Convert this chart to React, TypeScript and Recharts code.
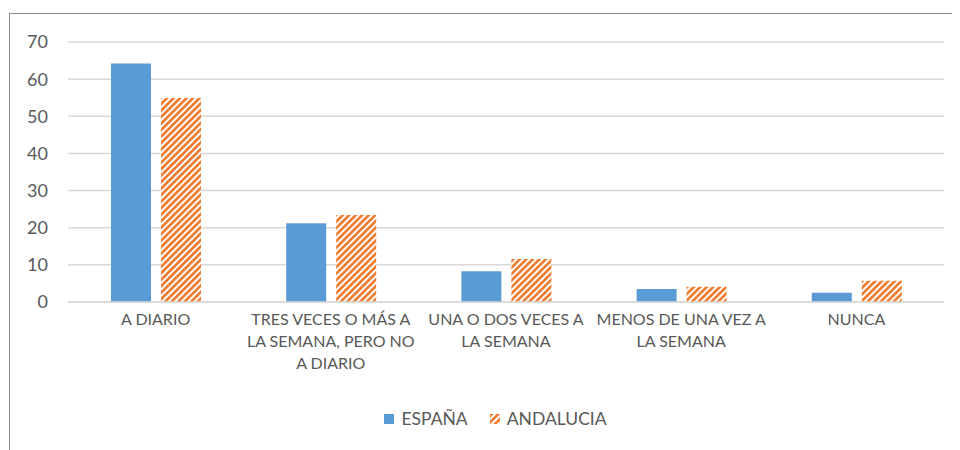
import React from "react";
import { BarChart, Bar, XAxis, YAxis, CartesianGrid, Legend, Text } from "recharts";

const categories = [
  "A DIARIO",
  "TRES VECES O MÁS A LA SEMANA, PERO NO A DIARIO",
  "UNA O DOS VECES A LA SEMANA",
  "MENOS DE UNA VEZ A LA SEMANA",
  "NUNCA",
];
const espana = [64.2, 21.2, 8.3, 3.5, 2.5];
const andalucia = [54.9, 23.4, 11.6, 4.1, 5.7];
const yTicks = [0, 10, 20, 30, 40, 50, 60, 70];

const data = categories.map((name, i) => ({ name, espana: espana[i], andalucia: andalucia[i] }));

const FONT = "Lato, 'Open Sans', sans-serif";
const BLUE = "#5B9BD5";
const ORANGE = "#ED7D31";
const TEXT = "#595959";

// wide upward diagonal, like the Excel pattern fill
const Stripes = ({ id }: { id: string }) => (
  <pattern id={id} patternUnits="userSpaceOnUse" width={4.6} height={4.6} patternTransform="rotate(45)">
    <rect x={0} y={0} width={4.6} height={4.6} fill="#fff" />
    <rect x={0} y={0} width={2.7} height={4.6} fill={ORANGE} />
  </pattern>
);

const CategoryTick = (props: any) => {
  const { x, y, payload } = props;
  return (
    <Text
      x={x}
      y={y}
      width={172}
      textAnchor="middle"
      verticalAnchor="start"
      lineHeight={22}
      fill={TEXT}
      fontSize={16}
      fontFamily={FONT}
    >
      {payload.value}
    </Text>
  );
};

const LegendContent = () => (
  <div style={{ display: "flex", justifyContent: "center", alignItems: "center", fontFamily: FONT, fontSize: 17.5, color: TEXT }}>
    <svg width={10} height={10} style={{ marginRight: 7 }}>
      <rect width={10} height={10} fill={BLUE} />
    </svg>
    <span style={{ marginRight: 22 }}>ESPAÑA</span>
    <svg width={10} height={10} style={{ marginRight: 7 }}>
      <defs>
        <Stripes id="legendStripes" />
      </defs>
      <rect width={10} height={10} fill="url(#legendStripes)" />
    </svg>
    <span>ANDALUCIA</span>
  </div>
);

export default function App() {
  return (
    <div style={{ position: "relative", width: 952, height: 442, overflow: "hidden", background: "#fff" }}>
      <div
        style={{
          position: "absolute",
          left: 1,
          top: 5,
          width: 1000,
          height: 500,
          border: "1px solid #8c8c8c",
        }}
      />
      <BarChart
        width={952}
        height={442}
        data={data}
        margin={{ top: 34, right: 16, left: 0, bottom: 88 }}
        barSize={40}
        barGap={10}
        style={{ position: "absolute", left: 0, top: 0 }}
      >
        <defs>
          <Stripes id="andStripes" />
        </defs>
        <CartesianGrid vertical={false} stroke="#d9d9d9" strokeWidth={1.5} />
        <XAxis
          dataKey="name"
          height={60}
          interval={0}
          tickLine={false}
          tickSize={0}
          tickMargin={12}
          axisLine={{ stroke: "#d9d9d9", strokeWidth: 1.5 }}
          tick={<CategoryTick />}
        />
        <YAxis
          width={60}
          domain={[0, 70]}
          ticks={yTicks}
          axisLine={false}
          tickLine={false}
          tickSize={0}
          tickMargin={20}
          tick={{ fill: TEXT, fontSize: 18, fontFamily: FONT }}
        />
        <Bar dataKey="espana" name="ESPAÑA" fill={BLUE} isAnimationActive={false} />
        <Bar dataKey="andalucia" name="ANDALUCIA" fill="url(#andStripes)" isAnimationActive={false} />
        <Legend
          verticalAlign="middle"
          align="center"
          layout="horizontal"
          content={<LegendContent />}
          wrapperStyle={{ top: 400, left: 0, width: 975 }}
        />
      </BarChart>
    </div>
  );
}
